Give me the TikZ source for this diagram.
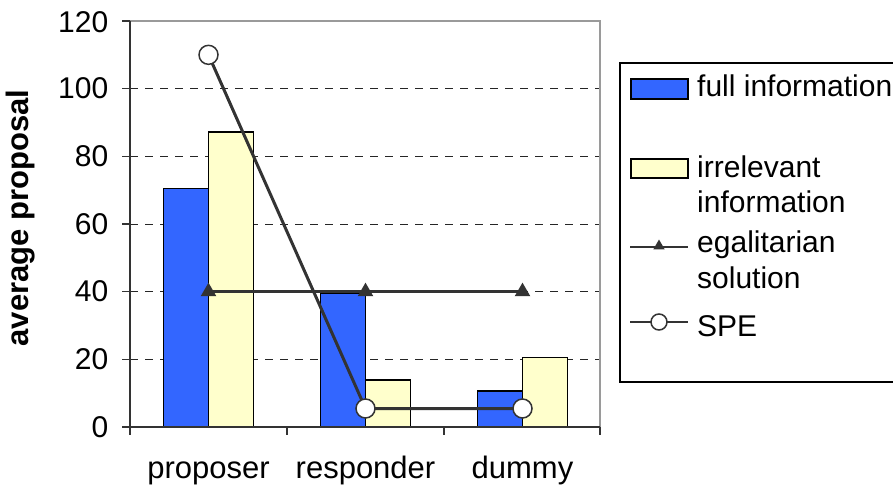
\documentclass[tikz,border=0pt]{standalone}
\usepackage{fontspec}
\setmainfont{Liberation Sans}
\usetikzlibrary{shapes.geometric}
\definecolor{fullblue}{HTML}{3366FF}
\definecolor{irryellow}{HTML}{FFFFCC}
\definecolor{linegray}{HTML}{333333}
\definecolor{framegray}{HTML}{9A9A9A}
\begin{document}
\begin{tikzpicture}[x=1pt,y=-1pt,
  txt/.style={font=\fontsize{30}{36}\selectfont, inner sep=0pt},
  ticklab/.style={txt, anchor=east},
  catlab/.style={font=\fontsize{31}{36}\selectfont, inner sep=0pt, anchor=base},
  legtext/.style={txt, anchor=base west},
  ylab/.style={font=\fontsize{31}{36}\selectfont\bfseries, inner sep=0pt, rotate=90},
  grid/.style={line width=1pt, draw=black!85, dash pattern=on 8pt off 7pt},
  axis/.style={line width=1.5pt, draw=linegray},
  frame/.style={line width=1.5pt, draw=framegray},
  fullbar/.style={fill=fullblue, draw=black, line width=1.5pt},
  irrbar/.style={fill=irryellow, draw=black, line width=1.5pt},
  series/.style={line width=3pt, draw=linegray},
  legseries/.style={line width=1.6pt, draw=linegray},
  tri/.style={regular polygon, regular polygon sides=3, fill=linegray, draw=none, inner sep=0pt, minimum size=18pt},
  legtri/.style={tri, minimum size=13pt},
  spe/.style={circle, fill=white, draw=linegray, line width=1.5pt, inner sep=0pt, minimum size=19pt},
  legspe/.style={spe, minimum size=16pt},
  legframe/.style={draw=black, line width=1.5pt, fill=white}
]
\useasboundingbox (0,0) rectangle (893,489);

% gridlines
\foreach \yy in {359.33,291.67,224,156.33,88.67}
  \draw[grid] (130,\yy) -- (600,\yy);
% plot frame (top and right)
\draw[frame] (130,21) -- (600,21) -- (600,427);

% bars: proposer, responder, dummy
\draw[fullbar] (163.5,427) rectangle (208.5,188.47);
\draw[irrbar]  (208.5,427) rectangle (253.5,131.97);
\draw[fullbar] (320.5,427) rectangle (365.5,293.36);
\draw[irrbar]  (365.5,427) rectangle (410.5,379.97);
\draw[fullbar] (477.5,427) rectangle (522.5,390.8);
\draw[irrbar]  (522.5,427) rectangle (567.5,357.64);

% axes and ticks
\draw[axis] (130,21) -- (130,427) -- (600,427);
\foreach \yy in {427,359.33,291.67,224,156.33,88.67,21}
  \draw[axis] (122,\yy) -- (130,\yy);
\foreach \xx in {130,287,444,600}
  \draw[axis] (\xx,427) -- (\xx,435);

% tick labels
\node[ticklab] (t0)   at (108.5,427)    {0};
\node[ticklab] (t20)  at (108.5,359.33) {20};
\node[ticklab] (t40)  at (108.5,291.67) {40};
\node[ticklab] (t60)  at (108.5,224)    {60};
\node[ticklab] (t80)  at (108.5,156.33) {80};
\node[ticklab] (t100) at (108.5,88.67)  {100};
\node[ticklab] (t120) at (108.5,22)     {120};

% category labels
\node[catlab] (cp) at (208.5,478) {proposer};
\node[catlab] (cr) at (365.5,478) {responder};
\node[catlab] (cd) at (522.5,478) {dummy};

% y axis label
\node[ylab] (yl) at (21,218) {average proposal};

% series points
\coordinate (e1) at (208.5,291.67);
\coordinate (e2) at (365.5,291.67);
\coordinate (e3) at (522.5,291.67);
\coordinate (s1) at (208.5,54.83);
\coordinate (s2) at (365.5,408.5);
\coordinate (s3) at (522.5,408.5);

\draw[series] (e1) -- (e2) -- (e3);
\draw[series] (s1) -- (s2) -- (s3);
\node[tri] (E1) at (e1) {};
\node[tri] (E2) at (e2) {};
\node[tri] (E3) at (e3) {};
\node[spe] (S1) at (s1) {};
\node[spe] (S2) at (s2) {};
\node[spe] (S3) at (s3) {};

% legend
\draw[legframe] (620,63) rectangle (905,382);
\draw[fullbar] (631,79) rectangle (688,99);
\node[legtext] (l1) at (697,97) {full information};
\draw[irrbar] (631,159) rectangle (688,178);
\node[legtext] (l2) at (697,177) {irrelevant};
\node[legtext] (l2b) at (697,212) {information};
\coordinate (la) at (630,247);
\coordinate (lb) at (688,247);
\draw[legseries] (la) -- (lb);
\node[legtri] (LT) at (659,246) {};
\node[legtext] (l3) at (697,252) {egalitarian};
\node[legtext] (l3b) at (697,288) {solution};
\coordinate (lc) at (630,322);
\coordinate (ld) at (688,322);
\draw[legseries] (lc) -- (ld);
\node[legspe] (LS) at (659,322) {};
\node[legtext] (l4) at (697,336) {SPE};
\end{tikzpicture}
\end{document}
